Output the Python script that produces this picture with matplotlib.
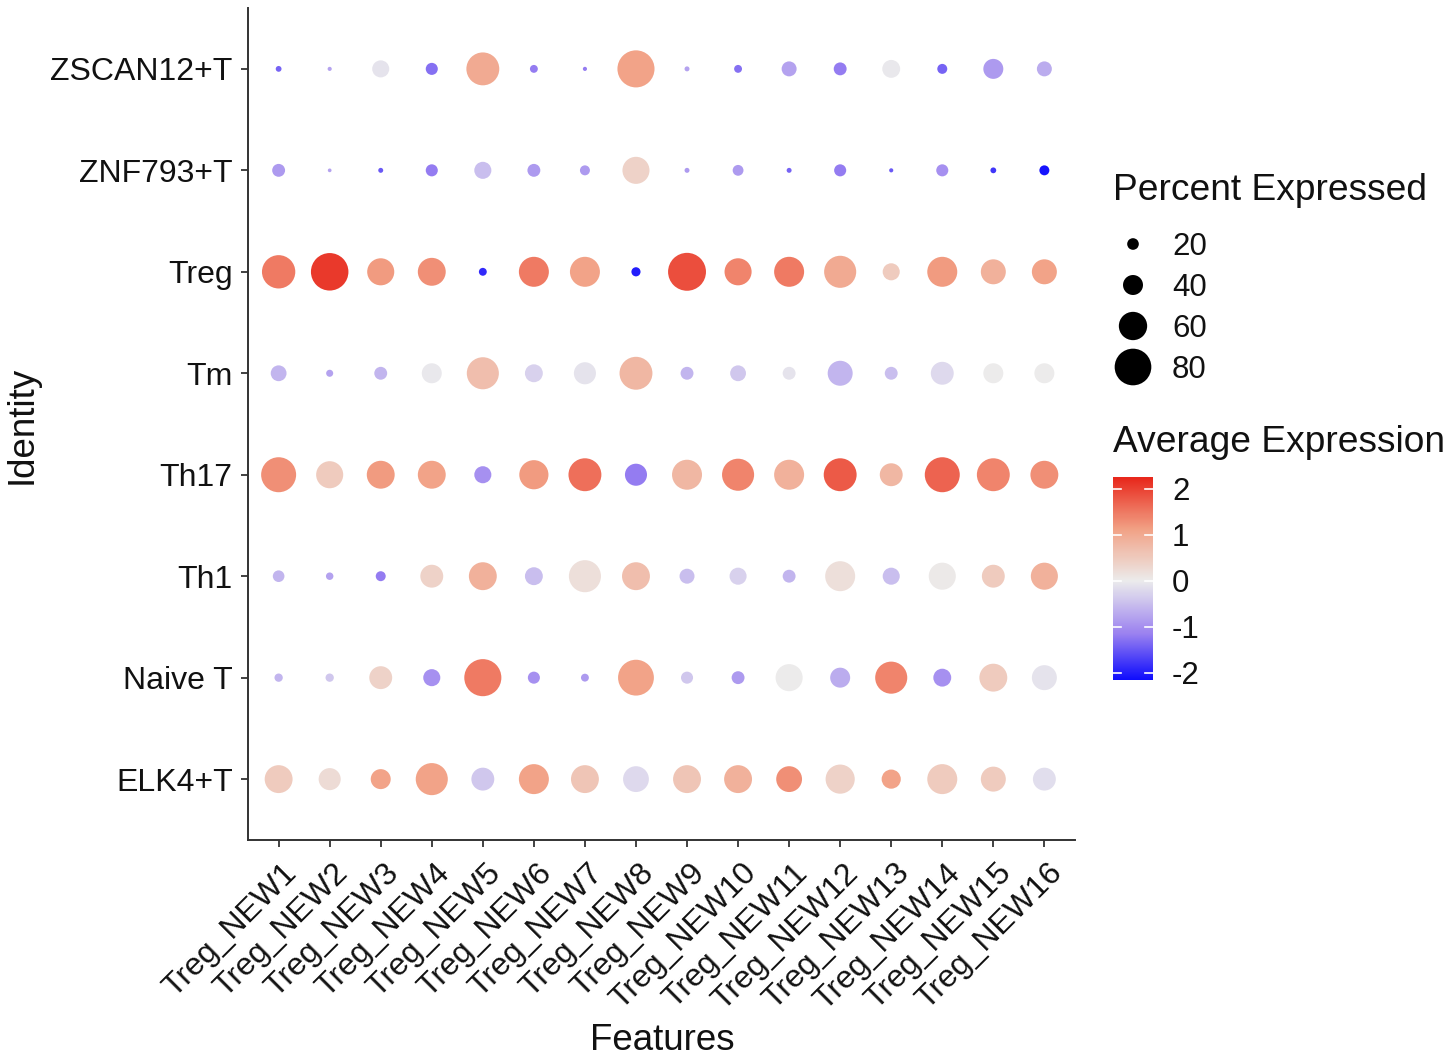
import numpy as np
import matplotlib
matplotlib.use("Agg")
import matplotlib.pyplot as plt
from matplotlib.colors import LinearSegmentedColormap, Normalize
from matplotlib.transforms import ScaledTranslation

plt.rcParams['font.family'] = ['Liberation Sans', 'DejaVu Sans']

features = ["Treg_NEW%d" % i for i in range(1, 17)]
identities = ["ELK4+T", "Naive T", "Th1", "Th17", "Tm", "Treg", "ZNF793+T", "ZSCAN12+T"]

# percent expressed, one list per identity (bottom to top)
pct_elk4 = [59, 45, 40, 69, 47, 64, 59, 54, 59, 59, 54, 62, 38, 64, 52, 47]
pct_naive = [12, 12, 47, 33, 81, 21, 11, 78, 21, 23, 57, 40, 69, 35, 59, 52]
pct_th1 = [20, 10, 16, 47, 59, 35, 69, 59, 28, 33, 23, 64, 33, 57, 47, 57]
pct_th17 = [76, 57, 59, 59, 33, 62, 71, 45, 64, 69, 64, 71, 47, 76, 71, 59]
pct_tm = [30, 9, 23, 40, 69, 35, 45, 71, 23, 30, 23, 52, 23, 47, 40, 40]
pct_treg = [72, 82, 57, 59, 11, 64, 64, 14, 83, 57, 64, 69, 33, 64, 52, 52]
pct_znf793 = [23, 1, 4, 21, 33, 23, 16, 57, 4, 18, 4, 21, 2, 21, 6, 16]
pct_zscan12 = [6, 2, 33, 21, 71, 11, 2, 81, 4, 11, 28, 23, 35, 16, 40, 28]

# average expression (scaled)
avg_elk4 = [0.5, 0.25, 1.1, 1.1, -0.4, 1.1, 0.6, -0.2, 0.6, 0.9, 1.3, 0.4, 1.1, 0.5, 0.5, -0.15]
avg_naive = [-0.6, -0.4, 0.4, -1.0, 1.5, -1.0, -0.9, 1.1, -0.4, -0.9, 0.0, -0.7, 1.4, -1.0, 0.5, -0.1]
avg_th1 = [-0.6, -0.8, -1.2, 0.4, 0.9, -0.5, 0.2, 0.7, -0.5, -0.3, -0.6, 0.2, -0.5, 0.05, 0.5, 0.9]
avg_th17 = [1.3, 0.5, 1.2, 1.1, -1.0, 1.2, 1.6, -1.2, 0.8, 1.4, 0.9, 1.8, 0.8, 1.7, 1.4, 1.3]
avg_tm = [-0.6, -0.8, -0.6, -0.05, 0.7, -0.3, -0.1, 0.8, -0.6, -0.4, -0.1, -0.6, -0.5, -0.2, 0.0, 0.0]
avg_treg = [1.5, 2.1, 1.2, 1.3, -1.9, 1.5, 1.1, -2.0, 1.9, 1.4, 1.5, 1.0, 0.5, 1.2, 0.9, 1.1]
avg_znf793 = [-0.9, -0.8, -1.5, -1.2, -0.5, -0.9, -0.9, 0.4, -0.9, -0.9, -1.4, -1.2, -1.5, -1.0, -1.8, -2.1]
avg_zscan12 = [-1.4, -0.8, -0.1, -1.3, 1.0, -1.2, -1.2, 1.1, -0.8, -1.3, -0.8, -1.2, -0.05, -1.4, -0.9, -0.7]

size_breaks = [20, 40, 60, 80]
color_ticks = [-2, -1, 0, 1, 2]
color_lo, color_hi = -2.15, 2.26

pct = np.array([pct_elk4, pct_naive, pct_th1, pct_th17, pct_tm, pct_treg, pct_znf793, pct_zscan12])
avg = np.array([avg_elk4, avg_naive, avg_th1, avg_th17, avg_tm, avg_treg, avg_znf793, avg_zscan12])

cmap = LinearSegmentedColormap.from_list(
    "bwr_lab", [(0.0, "#0000ff"), (0.25, "#9d84f0"), (0.5, "#ececec"),
                (0.75, "#f2a286"), (1.0, "#e8281c")])
norm = Normalize(-2.26, 2.26)


def dot_size(p):
    # diameter in pixels -> marker area in points^2 (dpi 100)
    d = 3.3 + 0.417 * np.asarray(p, dtype=float)
    return (d * 0.72) ** 2


W, H = 1456, 1056
fig = plt.figure(figsize=(W / 100, H / 100), dpi=100)
ax = fig.add_axes([248 / W, 1 - 840 / H, (1075 - 248) / W, (840 - 8) / H])

xx, yy = np.meshgrid(np.arange(len(features)), np.arange(len(identities)))
ax.scatter(xx.ravel(), yy.ravel(), s=dot_size(pct.ravel()), c=avg.ravel(),
           cmap=cmap, norm=norm, linewidths=0)

ax.set_xlim(-0.6, len(features) - 0.4)
ax.set_ylim(-0.6, len(identities) - 0.4)
ax.set_xticks(range(len(features)))
ax.set_xticklabels(features, rotation=45, ha='right', va='top', rotation_mode='anchor')
ax.set_yticks(range(len(identities)))
ax.set_yticklabels(identities)
ax.tick_params(axis='both', length=5, width=1.3, color='#333333', labelsize=23,
               labelcolor='#111111')
ax.tick_params(axis='x', pad=8)
ax.tick_params(axis='y', pad=6)
for lbl in ax.get_xticklabels():
    lbl.set_transform(lbl.get_transform() + ScaledTranslation(3 / 100, 0, fig.dpi_scale_trans))
for side in ['top', 'right']:
    ax.spines[side].set_visible(False)
for side in ['left', 'bottom']:
    ax.spines[side].set_linewidth(1.4)
    ax.spines[side].set_color('#333333')

fig.text(662 / W, 1 - 1040 / H, "Features", ha='center', va='center', fontsize=26.5, color='#111111')
fig.text(22 / W, 1 - 425 / H, "Identity", ha='center', va='center', rotation=90,
         fontsize=26.5, color='#111111')

# size legend
lax = fig.add_axes([0, 0, 1, 1], facecolor='none')
lax.set_xlim(0, W)
lax.set_ylim(H, 0)
lax.axis('off')
lax.text(1113, 191, "Percent Expressed", ha='left', va='center', fontsize=26.7, color='#111111')
leg_y = [244, 285, 326, 367]
lax.scatter([1133] * len(size_breaks), leg_y, s=dot_size(size_breaks), c='black', linewidths=0)
for yv, b in zip(leg_y, size_breaks):
    lax.text(1172, yv + 3, str(b), ha='left', va='center', fontsize=22.5, color='#111111')

# colorbar
lax.text(1113, 443, "Average Expression", ha='left', va='center', fontsize=26.7, color='#111111')
cax = fig.add_axes([1113 / W, 1 - 680 / H, 40 / W, (680 - 477) / H])
grad = np.linspace(color_lo, color_hi, 256).reshape(-1, 1)
cax.imshow(grad, aspect='auto', origin='lower', cmap=cmap, norm=norm,
           extent=[0, 1, color_lo, color_hi])
cax.set_xlim(0, 1)
cax.set_ylim(color_lo, color_hi)
for t in color_ticks:
    cax.plot([0, 0.2], [t, t], color='white', lw=1.2)
    cax.plot([0.8, 1], [t, t], color='white', lw=1.2)
    lax.text(1172, 683 - (t - color_lo) / (color_hi - color_lo) * (680 - 477), str(t),
             ha='left', va='center', fontsize=22.5, color='#111111')
cax.axis('off')

fig.savefig("out.png", dpi=100, facecolor='white')
